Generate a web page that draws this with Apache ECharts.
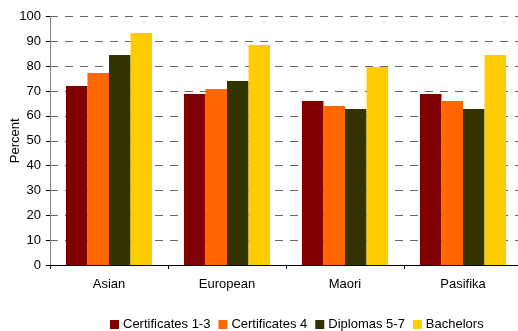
<!DOCTYPE html>
<html>
<head>
<meta charset="utf-8">
<script src="https://cdn.jsdelivr.net/npm/echarts@6/dist/echarts.min.js"></script>
<style>
  html, body { margin: 0; padding: 0; background: #fff; }
  #chart { width: 518px; height: 331px; }
</style>
</head>
<body>
<div id="chart"></div>
<script>
var categories = ["Asian", "European", "Maori", "Pasifika"];
var seriesNames = ["Certificates 1-3", "Certificates 4", "Diplomas 5-7", "Bachelors"];
var cert13 = [72, 68.8, 66, 68.8];
var cert4 = [77.3, 70.8, 64, 66];
var dipl57 = [84.5, 74, 62.8, 62.8];
var bachelors = [93.4, 88.5, 79.7, 84.5];
var colors = ["#800000", "#FF6600", "#333300", "#FFCC00"];

var chart = echarts.init(document.getElementById("chart"));
var datas = [cert13, cert4, dipl57, bachelors];
var series = [];
datas.forEach(function (d, i) {
  series.push({
    name: seriesNames[i],
    type: "bar",
    data: d,
    barGap: "0%",
    barCategoryGap: "27%",
    itemStyle: { color: colors[i] }
  });
});

var option = {
  animation: false,
  textStyle: { fontFamily: "Liberation Sans, Arial, sans-serif" },
  grid: { left: 50, top: 16.5, bottom: 66, right: -4, outerBoundsMode: "none", containLabel: false },
  legend: {
    left: 110,
    top: 318,
    padding: 0,
    itemWidth: 9,
    itemHeight: 9,
    itemGap: 8,
    icon: "rect",
    textStyle: { color: "#000", fontSize: 13, padding: [0, 0, 0, -1] },
    data: seriesNames
  },
  xAxis: {
    type: "category",
    data: categories,
    axisLine: { lineStyle: { color: "#000" } },
    axisTick: { show: true, length: 4, lineStyle: { color: "#000" } },
    axisLabel: { color: "#000", fontSize: 13, margin: 13 }
  },
  yAxis: {
    type: "value",
    min: 0,
    max: 100,
    interval: 10,
    name: "Percent",
    nameLocation: "middle",
    nameGap: 28,
    nameMoveOverlap: false,
    nameTextStyle: { color: "#000", fontSize: 13 },
    axisLine: { show: true, lineStyle: { color: "#808080" } },
    axisTick: { show: true, length: 4, lineStyle: { color: "#000" } },
    axisLabel: { color: "#000", fontSize: 13, margin: 9 },
    splitLine: {
      show: true,
      lineStyle: { color: "#666", type: [8, 7], width: 1 }
    }
  },
  series: series
};
chart.setOption(option);
</script>
</body>
</html>
